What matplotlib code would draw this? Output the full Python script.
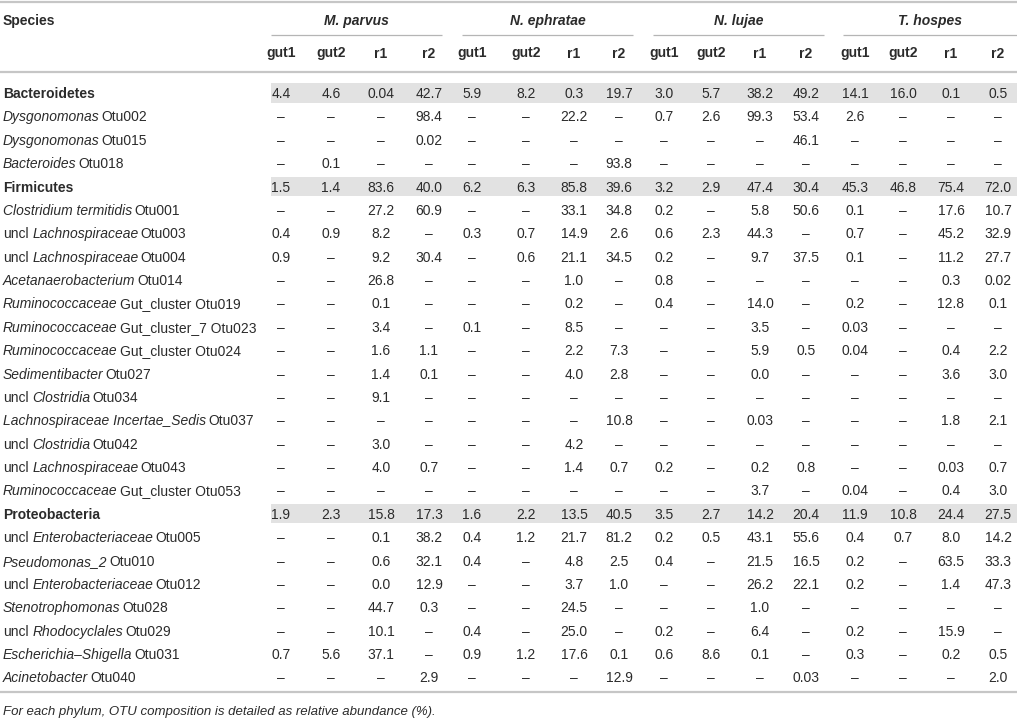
import matplotlib
matplotlib.use("Agg")
import matplotlib.pyplot as plt
from matplotlib.patches import Rectangle

plt.rcParams['font.family'] = ['Liberation Sans', 'DejaVu Sans']

D = '–'

# column layout of the source table
groups = ['M. parvus', 'N. ephratae', 'N. lujae', 'T. hospes']
samples = ['gut1', 'gut2', 'r1', 'r2']

# each label is a list of (text, style) pieces; 'b' bold, 'i' italic, 'n' plain
row_labels = [
    [('Bacteroidetes', 'b')],
    [('Dysgonomonas', 'i'), ('Otu002', 'n')],
    [('Dysgonomonas', 'i'), ('Otu015', 'n')],
    [('Bacteroides', 'i'), ('Otu018', 'n')],
    [('Firmicutes', 'b')],
    [('Clostridium termitidis', 'i'), ('Otu001', 'n')],
    [('uncl', 'n'), ('Lachnospiraceae', 'i'), ('Otu003', 'n')],
    [('uncl', 'n'), ('Lachnospiraceae', 'i'), ('Otu004', 'n')],
    [('Acetanaerobacterium', 'i'), ('Otu014', 'n')],
    [('Ruminococcaceae', 'i'), ('Gut_cluster Otu019', 'n')],
    [('Ruminococcaceae', 'i'), ('Gut_cluster_7 Otu023', 'n')],
    [('Ruminococcaceae', 'i'), ('Gut_cluster Otu024', 'n')],
    [('Sedimentibacter', 'i'), ('Otu027', 'n')],
    [('uncl', 'n'), ('Clostridia', 'i'), ('Otu034', 'n')],
    [('Lachnospiraceae Incertae_Sedis', 'i'), ('Otu037', 'n')],
    [('uncl', 'n'), ('Clostridia', 'i'), ('Otu042', 'n')],
    [('uncl', 'n'), ('Lachnospiraceae', 'i'), ('Otu043', 'n')],
    [('Ruminococcaceae', 'i'), ('Gut_cluster Otu053', 'n')],
    [('Proteobacteria', 'b')],
    [('uncl', 'n'), ('Enterobacteriaceae', 'i'), ('Otu005', 'n')],
    [('Pseudomonas_2', 'i'), ('Otu010', 'n')],
    [('uncl', 'n'), ('Enterobacteriaceae', 'i'), ('Otu012', 'n')],
    [('Stenotrophomonas', 'i'), ('Otu028', 'n')],
    [('uncl', 'n'), ('Rhodocyclales', 'i'), ('Otu029', 'n')],
    [('Escherichia–Shigella', 'i'), ('Otu031', 'n')],
    [('Acinetobacter', 'i'), ('Otu040', 'n')],
]

# relative abundance (%), 16 columns: 4 termites x (gut1, gut2, r1, r2)
values = [
    ['4.4', '4.6', '0.04', '42.7', '5.9', '8.2', '0.3', '19.7', '3.0', '5.7', '38.2', '49.2', '14.1', '16.0', '0.1', '0.5'],
    [D, D, D, '98.4', D, D, '22.2', D, '0.7', '2.6', '99.3', '53.4', '2.6', D, D, D],
    [D, D, D, '0.02', D, D, D, D, D, D, D, '46.1', D, D, D, D],
    [D, '0.1', D, D, D, D, D, '93.8', D, D, D, D, D, D, D, D],
    ['1.5', '1.4', '83.6', '40.0', '6.2', '6.3', '85.8', '39.6', '3.2', '2.9', '47.4', '30.4', '45.3', '46.8', '75.4', '72.0'],
    [D, D, '27.2', '60.9', D, D, '33.1', '34.8', '0.2', D, '5.8', '50.6', '0.1', D, '17.6', '10.7'],
    ['0.4', '0.9', '8.2', D, '0.3', '0.7', '14.9', '2.6', '0.6', '2.3', '44.3', D, '0.7', D, '45.2', '32.9'],
    ['0.9', D, '9.2', '30.4', D, '0.6', '21.1', '34.5', '0.2', D, '9.7', '37.5', '0.1', D, '11.2', '27.7'],
    [D, D, '26.8', D, D, D, '1.0', D, '0.8', D, D, D, D, D, '0.3', '0.02'],
    [D, D, '0.1', D, D, D, '0.2', D, '0.4', D, '14.0', D, '0.2', D, '12.8', '0.1'],
    [D, D, '3.4', D, '0.1', D, '8.5', D, D, D, '3.5', D, '0.03', D, D, D],
    [D, D, '1.6', '1.1', D, D, '2.2', '7.3', D, D, '5.9', '0.5', '0.04', D, '0.4', '2.2'],
    [D, D, '1.4', '0.1', D, D, '4.0', '2.8', D, D, '0.0', D, D, D, '3.6', '3.0'],
    [D, D, '9.1', D, D, D, D, D, D, D, D, D, D, D, D, D],
    [D, D, D, D, D, D, D, '10.8', D, D, '0.03', D, D, D, '1.8', '2.1'],
    [D, D, '3.0', D, D, D, '4.2', D, D, D, D, D, D, D, D, D],
    [D, D, '4.0', '0.7', D, D, '1.4', '0.7', '0.2', D, '0.2', '0.8', D, D, '0.03', '0.7'],
    [D, D, D, D, D, D, D, D, D, D, '3.7', D, '0.04', D, '0.4', '3.0'],
    ['1.9', '2.3', '15.8', '17.3', '1.6', '2.2', '13.5', '40.5', '3.5', '2.7', '14.2', '20.4', '11.9', '10.8', '24.4', '27.5'],
    [D, D, '0.1', '38.2', '0.4', '1.2', '21.7', '81.2', '0.2', '0.5', '43.1', '55.6', '0.4', '0.7', '8.0', '14.2'],
    [D, D, '0.6', '32.1', '0.4', D, '4.8', '2.5', '0.4', D, '21.5', '16.5', '0.2', D, '63.5', '33.3'],
    [D, D, '0.0', '12.9', D, D, '3.7', '1.0', D, D, '26.2', '22.1', '0.2', D, '1.4', '47.3'],
    [D, D, '44.7', '0.3', D, D, '24.5', D, D, D, '1.0', D, D, D, D, D],
    [D, D, '10.1', D, '0.4', D, '25.0', D, '0.2', D, '6.4', D, '0.2', D, '15.9', D],
    ['0.7', '5.6', '37.1', D, '0.9', '1.2', '17.6', '0.1', '0.6', '8.6', '0.1', D, '0.3', D, '0.2', '0.5'],
    [D, D, D, '2.9', D, D, D, '12.9', D, D, D, '0.03', D, D, D, '2.0'],
]

footnote = 'For each phylum, OTU composition is detailed as relative abundance (%).'

# layout (pixel units, y downward)
W, H = 1017, 722
col_x = [281, 331, 381, 429, 472, 526, 574, 619, 664, 711, 760, 806, 855, 903, 951, 998]
group_span = [(271, 442), (462, 633), (653, 824), (843, 1017)]
y_first, row_h = 92.5, 23.38
fs = 10
txt_col = '#2b2b2b'
rule_col = '#c6c6c6'
band_col = '#e2e2e2'

fig = plt.figure(figsize=(W / 100, H / 100), dpi=100)
ax = fig.add_axes([0, 0, 1, 1])
ax.set_xlim(0, W)
ax.set_ylim(H, 0)
ax.axis('off')
renderer = fig.canvas.get_renderer()

# width of one space at this size
_p1 = ax.text(0, 0, 'x x', fontsize=fs)
_p2 = ax.text(0, 0, 'xx', fontsize=fs)
gap = _p1.get_window_extent(renderer).width - _p2.get_window_extent(renderer).width
_p1.remove()
_p2.remove()


def put_parts(x, y, parts):
    # draw mixed-style pieces one after another, separated by a space
    for txt, st in parts:
        t = ax.text(x, y, txt, fontsize=fs, color=txt_col, va='center_baseline', ha='left',
                    fontweight='bold' if st == 'b' else 'normal',
                    fontstyle='italic' if st == 'i' else 'normal')
        x += t.get_window_extent(renderer).width + gap
        if st == 'i':
            x -= 2   # italic bbox carries the slant overhang


# rules
ax.plot([0, W], [2, 2], color=rule_col, lw=1.6, solid_capstyle='butt')
ax.plot([0, W], [72, 72], color=rule_col, lw=1.6, solid_capstyle='butt')
ax.plot([0, W], [692, 692], color=rule_col, lw=1.6, solid_capstyle='butt')
for (a, b) in group_span:
    ax.plot([a, b], [35, 35], color='#b5b5b5', lw=0.9, solid_capstyle='butt')

# header
ax.text(3, 20, 'Species', fontsize=fs, fontweight='bold', color=txt_col, va='center_baseline')
for g, (a, b) in zip(groups, group_span):
    ax.text((a + b) / 2, 20, g, fontsize=fs, fontweight='bold', fontstyle='italic',
            color=txt_col, ha='center', va='center_baseline')
for j, x in enumerate(col_x):
    ax.text(x, 52, samples[j % 4], fontsize=fs, fontweight='bold', color=txt_col,
            ha='center', va='center_baseline')

# body
for i, (lab, vals) in enumerate(zip(row_labels, values)):
    y = y_first + i * row_h
    if lab[0][1] == 'b':
        ax.add_patch(Rectangle((271, y - 9.5), W - 271, 19.5, color=band_col, lw=0))
    put_parts(3, y, lab)
    for x, v in zip(col_x, vals):
        ax.text(x, y, v, fontsize=fs, color=txt_col, ha='center', va='center_baseline')

ax.text(3, 710, footnote, fontsize=9.5, fontstyle='italic', color=txt_col, va='center_baseline')

fig.savefig('out.png', dpi=100)
